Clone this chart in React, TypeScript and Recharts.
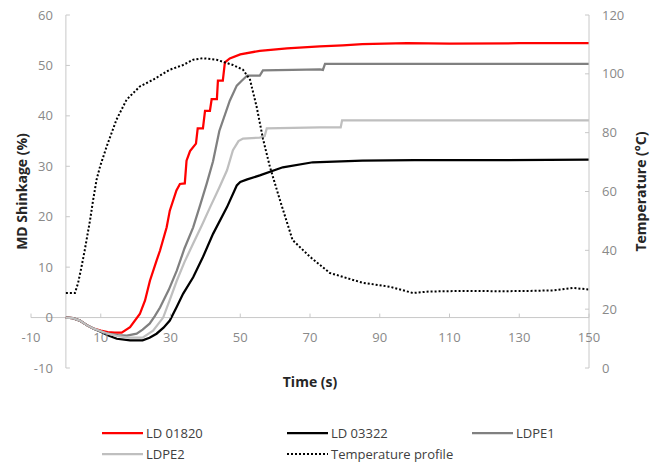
import { Legend, Line, LineChart, ReferenceLine, XAxis, YAxis } from "recharts";

// time in s
const timeLd01820 = [0, 2, 4, 6, 8, 10, 12, 14, 16, 18.4, 21.2, 22.7, 24.1, 26, 27, 28.9, 29.8, 31.7, 32.7, 34.1, 34.6, 35.6, 37.3, 37.8, 39.3, 39.9, 41.3, 41.8, 43.3, 43.6, 45, 45.6, 47, 50, 55.6, 63.4, 72.8, 79.4, 85, 97.8, 110, 130, 150];
const shrinkLd01820 = [0, -0.1, -0.6, -1.5, -2.2, -2.6, -2.9, -3, -3, -1.9, 0.7, 3.4, 7.3, 11.3, 13.3, 17.9, 21.2, 25.2, 26.5, 26.6, 31.1, 33, 34.5, 37.5, 37.5, 41, 41, 43.3, 43.3, 47, 47, 50.6, 51.4, 52.2, 52.9, 53.4, 53.8, 54, 54.2, 54.4, 54.3, 54.4, 54.4];

const timeLd03322 = [0, 2, 4, 6, 8, 10, 12, 14.6, 18.4, 22, 24, 26, 28, 29.8, 31.7, 33.6, 36.5, 39.3, 42.2, 46.2, 49, 50, 52, 55.6, 62.2, 70.8, 85, 100, 120, 150];
const shrinkLd03322 = [0, -0.1, -0.6, -1.5, -2.2, -2.8, -3.5, -4.2, -4.5, -4.5, -4, -3.2, -2, -0.6, 2, 4.7, 8, 12, 16.6, 21.9, 26.2, 26.9, 27.4, 28.2, 29.8, 30.8, 31.1, 31.2, 31.2, 31.3];

const timeLdpe1 = [0, 2, 4, 6, 8, 10, 12, 15, 17.5, 20.3, 22, 24, 25.5, 27, 29.5, 31.8, 34, 36.5, 38.5, 40.4, 42.2, 44, 47, 49, 50.5, 52, 55.6, 56.5, 65, 72.8, 73.7, 74.3, 90, 110, 130, 150];
const shrinkLdpe1 = [0, -0.1, -0.6, -1.5, -2.2, -2.7, -3.2, -3.5, -3.6, -3.2, -2.4, -1.2, 0.3, 2, 5.5, 9.3, 13.7, 17.9, 22.3, 26.6, 31, 37, 43, 46, 47, 48, 48, 49, 49.1, 49.2, 49.1, 50.3, 50.3, 50.3, 50.3, 50.3];

const timeLdpe2 = [0, 2, 4, 6, 8, 10, 12, 15, 18, 22, 25, 27.9, 29.8, 31.8, 34, 36.5, 39, 41.3, 44, 46.2, 47.9, 49.5, 50.8, 55.6, 57, 57.6, 72.8, 78.8, 79.2, 100, 120, 150];
const shrinkLdpe2 = [0, -0.1, -0.6, -1.5, -2.2, -2.7, -3.2, -3.7, -4, -4, -2.6, 0, 3.5, 7.3, 11, 14.7, 18.3, 21.8, 25.8, 29.2, 33.2, 35, 35.5, 35.7, 36, 37.5, 37.7, 37.7, 39.1, 39.1, 39.1, 39.1];

const timeTemp = [0, 2.6, 3.5, 4.5, 5.4, 6.9, 7.8, 8.8, 9.8, 11.7, 14.5, 17.4, 21.2, 25, 29.8, 33.6, 36.5, 39.3, 43.2, 47.9, 50.8, 52.8, 54.7, 56.5, 58.5, 61.4, 65, 70, 75.7, 85, 93, 99.5, 104, 114, 125, 133, 140, 145.5, 150];
const tempProfile = [25.5, 25.5, 28.9, 34.5, 40, 50, 57, 64, 68.5, 75.3, 84.4, 91.2, 95.7, 98, 101.4, 103, 104.8, 105.3, 104.8, 103, 101.4, 98, 88.8, 78, 68.4, 57, 43.5, 37.8, 32.3, 29, 27.6, 25.5, 26, 26.2, 26.1, 26.2, 26.4, 27.2, 26.7];

const xTicks = [-10, 10, 30, 50, 70, 90, 110, 130, 150];
const leftTicks = [-10, 0, 10, 20, 30, 40, 50, 60];
const rightTicks = [0, 20, 40, 60, 80, 100, 120];

const zip = (ts: number[], vs: number[]) => ts.map((t, i) => ({ t, v: vs[i] }));

const SERIES = [
  { name: "LD 01820", data: zip(timeLd01820, shrinkLd01820), color: "#ff0000", axis: "left", width: 2.25, dash: undefined },
  { name: "LD 03322", data: zip(timeLd03322, shrinkLd03322), color: "#000000", axis: "left", width: 2.25, dash: undefined },
  { name: "LDPE1", data: zip(timeLdpe1, shrinkLdpe1), color: "#808080", axis: "left", width: 2.25, dash: undefined },
  { name: "LDPE2", data: zip(timeLdpe2, shrinkLdpe2), color: "#bfbfbf", axis: "left", width: 2.25, dash: undefined },
  { name: "Temperature profile", data: zip(timeTemp, tempProfile), color: "#000000", axis: "right", width: 2, dash: "2 2" },
];

const W = 657;
const H = 465;
// plot box: left 31, right 589, top 15, bottom 368
const PLOT = { left: 31, right: 589, top: 15, bottom: 368 };
const AX_X_H = 20;
const AX_Y_W = 10;
const M = { top: PLOT.top, right: W - PLOT.right - AX_Y_W, bottom: H - PLOT.bottom - AX_X_H, left: PLOT.left - AX_Y_W };
const X_DOM = [-10, 150];
const Y_DOM = [-10, 60];
const PLOT_W = PLOT.right - PLOT.left;
const PLOT_H = PLOT.bottom - PLOT.top;
// axes cross at (0, 0) like in the Excel original
const X_ZERO = PLOT.left + (PLOT_W * (0 - X_DOM[0])) / (X_DOM[1] - X_DOM[0]);
const Y_ZERO = PLOT.top + (PLOT_H * Y_DOM[1]) / (Y_DOM[1] - Y_DOM[0]);

const FONT = "'Open Sans', sans-serif";
const AXIS = "#c8c8c8";
const TICK = "#898989";
const TITLE = "#262626";

const XTick = ({ x, payload }: any) => (
  <g>
    <line x1={x} x2={x} y1={Y_ZERO} y2={Y_ZERO - 4} stroke={AXIS} />
    <text x={x} y={Y_ZERO + 24} textAnchor="middle" fill={TICK} fontSize={13} fontFamily={FONT}>
      {payload.value}
    </text>
  </g>
);

const LeftTick = ({ y, payload }: any) => (
  <g>
    <line x1={X_ZERO} x2={X_ZERO + 4} y1={y} y2={y} stroke={AXIS} />
    <text x={X_ZERO - 13} y={y + 4.5} textAnchor="end" fill={TICK} fontSize={13} fontFamily={FONT}>
      {payload.value}
    </text>
  </g>
);

const RightTick = ({ y, payload }: any) => (
  <g>
    <line x1={PLOT.right - 4} x2={PLOT.right} y1={y} y2={y} stroke={AXIS} />
    <text x={PLOT.right + 13} y={y + 4.5} textAnchor="start" fill={TICK} fontSize={13} fontFamily={FONT}>
      {payload.value}
    </text>
  </g>
);

const vTitle = (text: string, cx: number) => ({ viewBox }: any) => {
  const cy = viewBox.y + viewBox.height / 2;
  return (
    <text
      x={cx}
      y={cy}
      transform={`rotate(-90 ${cx} ${cy})`}
      textAnchor="middle"
      dominantBaseline="central"
      fill={TITLE}
      fontSize={14}
      fontWeight="bold"
      fontFamily={FONT}
    >
      {text}
    </text>
  );
};

const xTitle = ({ viewBox }: any) => (
  <text
    x={viewBox.x + viewBox.width / 2}
    y={PLOT.bottom + 13}
    textAnchor="middle"
    dominantBaseline="central"
    fill={TITLE}
    fontSize={14}
    fontWeight="bold"
    fontFamily={FONT}
  >
    Time (s)
  </text>
);

const renderLegend = () => (
  <div
    style={{
      display: "grid",
      gridTemplateColumns: "185px 185px 185px",
      paddingLeft: 102,
      fontFamily: FONT,
      fontSize: 13,
      color: "#404040",
    }}
  >
    {SERIES.map((s) => (
      <div key={s.name} style={{ display: "flex", alignItems: "center", height: 21 }}>
        <svg width={41} height={6}>
          <line x1={0} x2={41} y1={3} y2={3} stroke={s.color} strokeWidth={s.width} strokeDasharray={s.dash} />
        </svg>
        <span style={{ marginLeft: 3 }}>{s.name}</span>
      </div>
    ))}
  </div>
);

export default function App() {
  return (
    <div style={{ position: "absolute", left: 0, top: 0, width: W, height: H, background: "#fff" }}>
      <LineChart width={W} height={H} margin={M}>
        <XAxis
          dataKey="t"
          type="number"
          domain={X_DOM}
          ticks={xTicks}
          interval={0}
          allowDataOverflow
          height={AX_X_H}
          axisLine={false}
          tickLine={false}
          tick={XTick}
          label={{ content: xTitle }}
        />
        <YAxis
          yAxisId="left"
          type="number"
          domain={Y_DOM}
          ticks={leftTicks}
          interval={0}
          width={AX_Y_W}
          axisLine={false}
          tickLine={false}
          tick={LeftTick}
          label={{ content: vTitle("MD Shinkage (%)", 21) }}
        />
        <YAxis
          yAxisId="right"
          orientation="right"
          type="number"
          domain={[0, 120]}
          ticks={rightTicks}
          interval={0}
          width={AX_Y_W}
          axisLine={{ stroke: AXIS }}
          tickLine={false}
          tick={RightTick}
          label={{ content: vTitle("Temperature (°C)", 640) }}
        />
        <ReferenceLine yAxisId="left" y={0} stroke={AXIS} />
        <ReferenceLine yAxisId="left" x={0} stroke={AXIS} />
        {SERIES.map((s) => (
          <Line
            key={s.name}
            name={s.name}
            data={s.data}
            dataKey="v"
            yAxisId={s.axis}
            type="linear"
            stroke={s.color}
            strokeWidth={s.width}
            strokeDasharray={s.dash}
            dot={false}
            activeDot={false}
            isAnimationActive={false}
          />
        ))}
        <Legend verticalAlign="middle" content={renderLegend} wrapperStyle={{ left: 0, top: 422, width: W }} />
      </LineChart>
    </div>
  );
}
